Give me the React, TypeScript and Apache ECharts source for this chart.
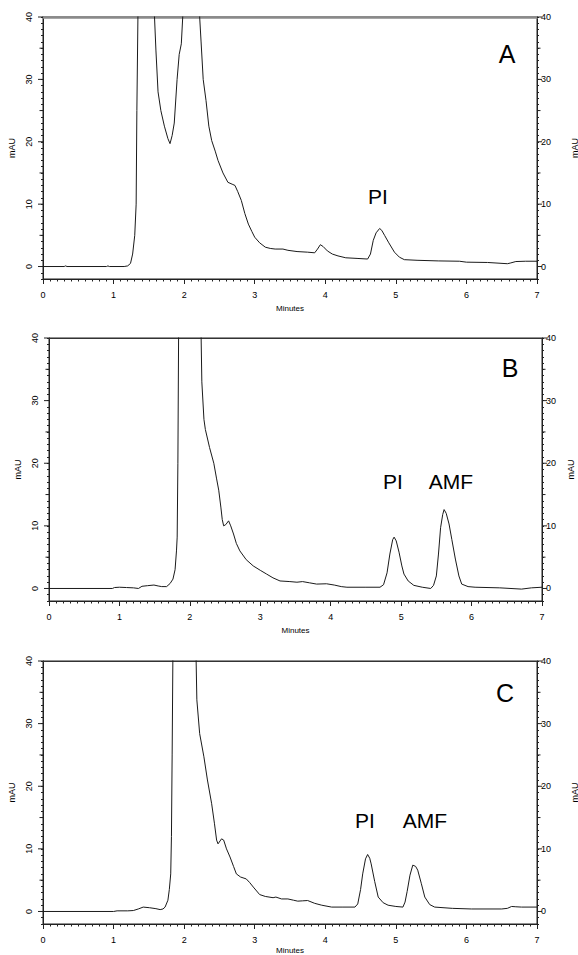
import React, { useEffect, useRef } from "react";
import * as echarts from "echarts";

const traceA: number[][] = [[0,0],[0.3,0],[0.32,0.1],[0.34,0],[0.9,0],[0.92,0.1],[0.94,0],[1.15,0],[1.2,0.1],[1.24,0.5],[1.27,2],[1.3,5],[1.32,10],[1.33,25],[1.35,45],[1.4,80],[1.5,80],[1.56,50],[1.58,40],[1.6,34.7],[1.63,28],[1.67,25],[1.72,22.5],[1.77,20.5],[1.8,19.7],[1.83,21],[1.86,23],[1.9,30],[1.93,34],[1.96,35.7],[1.98,40],[2.02,60],[2.1,70],[2.18,55],[2.22,40],[2.24,36],[2.27,30],[2.31,26.6],[2.35,22.5],[2.39,20.2],[2.44,18.5],[2.48,17],[2.55,15],[2.62,13.5],[2.68,13.2],[2.72,13],[2.76,12],[2.81,10.6],[2.86,8.5],[2.91,6.8],[2.96,5.6],[3.0,4.7],[3.07,3.8],[3.15,3.1],[3.22,2.9],[3.29,2.8],[3.4,2.8],[3.47,2.6],[3.6,2.4],[3.75,2.3],[3.85,2.2],[3.89,2.8],[3.93,3.5],[3.97,3.2],[4.03,2.5],[4.1,2.0],[4.18,1.7],[4.29,1.4],[4.45,1.3],[4.6,1.2],[4.64,2.0],[4.68,4.2],[4.72,5.4],[4.77,6.1],[4.8,5.8],[4.84,5.0],[4.9,3.8],[4.98,2.3],[5.05,1.5],[5.12,1.1],[5.3,1.0],[5.6,0.9],[5.9,0.85],[6.0,0.7],[6.3,0.65],[6.58,0.45],[6.62,0.55],[6.7,0.8],[6.84,0.85],[7,0.85]];

const traceB: number[][] = [[0,0],[0.9,0],[0.93,0.15],[1.0,0.2],[1.1,0.15],[1.2,0.1],[1.27,0],[1.32,0.35],[1.4,0.45],[1.49,0.55],[1.55,0.4],[1.6,0.3],[1.67,0.3],[1.72,0.8],[1.76,1.5],[1.79,3],[1.81,6],[1.82,8.2],[1.83,20],[1.84,40],[1.9,80],[2.0,120],[2.1,80],[2.15,45],[2.16,40],[2.17,33],[2.2,27],[2.22,25.4],[2.28,22.5],[2.34,20],[2.38,17.5],[2.41,15.7],[2.44,13],[2.46,11],[2.48,10],[2.51,10.2],[2.55,10.8],[2.58,10],[2.62,8.7],[2.66,7.2],[2.71,6],[2.8,4.6],[2.9,3.6],[3.0,2.9],[3.09,2.3],[3.18,1.7],[3.28,1.2],[3.42,1.1],[3.52,1.0],[3.6,1.1],[3.7,0.9],[3.8,0.7],[3.94,0.75],[4.05,0.55],[4.15,0.3],[4.23,0.2],[4.5,0.2],[4.7,0.2],[4.75,0.6],[4.8,2.5],[4.84,5.5],[4.88,7.8],[4.9,8.2],[4.93,7.6],[4.97,5.8],[5.01,3.6],[5.04,2.3],[5.1,1.2],[5.18,0.5],[5.3,0.2],[5.42,0],[5.46,0.5],[5.5,2],[5.53,5.5],[5.56,9.7],[5.59,11.8],[5.61,12.6],[5.64,12],[5.68,10.3],[5.72,7.8],[5.77,4.7],[5.82,2],[5.86,0.7],[5.95,0.3],[6.05,0.2],[6.4,0.1],[6.71,-0.1],[6.85,0.1],[7,0.2]];

const traceC: number[][] = [[0,0],[1.0,0],[1.05,0.1],[1.2,0.1],[1.28,0.15],[1.35,0.4],[1.42,0.7],[1.51,0.6],[1.6,0.45],[1.66,0.3],[1.7,0.4],[1.73,0.7],[1.77,1.8],[1.79,3.5],[1.81,6],[1.82,12],[1.83,25],[1.84,40],[1.9,90],[2.0,120],[2.1,80],[2.16,45],[2.17,40],[2.18,33.8],[2.22,28.4],[2.28,24.7],[2.33,21],[2.39,17.2],[2.43,14],[2.46,11.4],[2.48,10.8],[2.53,11.6],[2.56,11.4],[2.6,10],[2.65,8.7],[2.7,7.2],[2.74,6],[2.8,5.5],[2.88,5.2],[2.93,4.6],[2.98,3.9],[3.07,2.7],[3.15,2.4],[3.26,2.2],[3.3,2.3],[3.38,2.0],[3.47,2.0],[3.55,1.8],[3.61,1.65],[3.68,1.7],[3.75,1.75],[3.85,1.3],[3.95,1.0],[4.09,0.7],[4.25,0.7],[4.42,0.7],[4.46,1.2],[4.5,3.5],[4.53,6],[4.57,8.4],[4.6,9.1],[4.63,8.5],[4.65,7.6],[4.7,4.8],[4.75,2.3],[4.82,1.4],[4.89,1.0],[5.0,0.8],[5.1,0.7],[5.13,1.5],[5.16,3.2],[5.2,5.8],[5.24,7.4],[5.28,7.2],[5.31,6.6],[5.36,4.5],[5.41,2.3],[5.48,1.1],[5.55,0.7],[5.8,0.5],[6.07,0.4],[6.5,0.4],[6.58,0.5],[6.64,0.8],[6.7,0.75],[6.78,0.7],[7,0.7]];

const yMajorTicks = [0, 10, 20, 30, 40];
const yMidTicks = [5, 15, 25, 35];
const panelLetters = ["A", "B", "C"];
const peakLabelsA = ["PI"];
const peakLabelsB = ["PI", "AMF"];
const peakLabelsC = ["PI", "AMF"];

const FONT = "'Liberation Sans', Arial, sans-serif";
const INK = "#222";

const grids = [
  { left: 43, right: 41, top: 17, height: 262 },
  { left: 49, right: 36, top: 338, height: 263 },
  { left: 43, right: 41, top: 661, height: 263 },
];
const topLine = [
  { color: "#8a8a8a", width: 2.5 },
  { color: "#333", width: 1 },
  { color: "#333", width: 1 },
];
const rightNameGap = [33, 24, 33];
const minutesGap = [25, 25, 22];

const yLabel = (v: number) => (v >= 0 && v % 10 === 0 ? String(v) : "");

export default function App() {
  const ref = useRef<HTMLDivElement>(null);
  useEffect(() => {
    if (!ref.current) return;
    const chart = echarts.init(ref.current, null, { renderer: "svg" });
    const xAxes: any[] = [];
    const yAxes: any[] = [];
    const series: any[] = [];
    const traces = [traceA, traceB, traceC];
    const tickStyle = { color: INK, width: 1 };
    const tickData: number[][] = [];
    yMajorTicks.forEach((v) => { tickData.push([0, v, 5]); tickData.push([1, v, 5]); });
    yMidTicks.forEach((v) => { tickData.push([0, v, 3.5]); tickData.push([1, v, 3.5]); });

    grids.forEach((_, i) => {
      xAxes.push({
        gridIndex: i, type: "value", min: 0, max: 7, interval: 1, position: "bottom",
        axisLine: { show: true, onZero: false, lineStyle: { color: INK, width: 1 } },
        splitLine: { show: false },
        axisTick: { show: true, inside: false, length: 5, lineStyle: tickStyle },
        minorTick: { show: true, splitNumber: 10, length: 2.5, lineStyle: tickStyle },
        axisLabel: { fontSize: 9, color: "#000", margin: 11, fontFamily: FONT },
        name: "Minutes", nameLocation: "middle", nameGap: minutesGap[i],
        nameTextStyle: { fontSize: 8, color: "#000", fontFamily: FONT },
      });
      xAxes.push({
        gridIndex: i, type: "value", min: 0, max: 7, position: "top",
        axisLine: { show: true, onZero: false, lineStyle: topLine[i] },
        axisTick: { show: false }, axisLabel: { show: false }, splitLine: { show: false },
      });
      yAxes.push({
        gridIndex: i, type: "value", min: -2, max: 40, interval: 1, position: "left",
        splitLine: { show: false },
        axisLine: { show: true, onZero: false, lineStyle: { color: INK, width: 1 } },
        axisTick: { show: true, length: 2, lineStyle: tickStyle },
        axisLabel: { formatter: yLabel, rotate: 90, fontSize: 9, color: "#000", margin: 10, fontFamily: FONT, showMinLabel: true, showMaxLabel: true },
        name: "mAU", nameLocation: "middle", nameGap: 26, nameRotate: 90,
        nameTextStyle: { fontSize: 9, color: "#000", fontFamily: FONT },
      });
      yAxes.push({
        gridIndex: i, type: "value", min: -2, max: 40, interval: 1, position: "right",
        splitLine: { show: false },
        axisLine: { show: true, onZero: false, lineStyle: { color: INK, width: 1 } },
        axisTick: { show: true, length: 2, lineStyle: tickStyle },
        axisLabel: { formatter: yLabel, fontSize: 9, color: "#000", margin: 4, fontFamily: FONT, showMinLabel: true, showMaxLabel: true },
        name: "mAU", nameLocation: "middle", nameGap: rightNameGap[i], nameRotate: 90,
        nameTextStyle: { fontSize: 9, color: "#000", fontFamily: FONT },
      });
      series.push({
        type: "line", xAxisIndex: i * 2, yAxisIndex: i * 2, data: traces[i],
        showSymbol: false, symbol: "none", clip: true,
        lineStyle: { color: "#1a1a1a", width: 1 },
      });
      series.push({
        type: "custom", xAxisIndex: i * 2, yAxisIndex: i * 2, data: tickData,
        clip: false, silent: true,
        encode: { x: 0, y: 1 },
        renderItem: (_p: any, api: any) => {
          const side = api.value(0);
          const v = api.value(1);
          const len = api.value(2);
          const p = api.coord([side === 0 ? 0 : 7, v]);
          const dx = side === 0 ? -len : len;
          return {
            type: "line",
            shape: { x1: p[0], y1: p[1], x2: p[0] + dx, y2: p[1] },
            style: { stroke: INK, lineWidth: 1 },
          };
        },
      });
    });

    const txt = (t: string, x: number, y: number, size: number) => ({
      type: "text", x, y,
      style: { text: t, fontSize: size, fontFamily: FONT, fill: "#000", align: "center", verticalAlign: "middle" },
    });
    const graphic = [
      txt(panelLetters[0], 507, 54, 25),
      txt(peakLabelsA[0], 378, 196, 21),
      txt(panelLetters[1], 510, 368, 25),
      txt(peakLabelsB[0], 393, 481, 21),
      txt(peakLabelsB[1], 451, 481, 21),
      txt(panelLetters[2], 505, 693, 25),
      txt(peakLabelsC[0], 365, 820, 21),
      txt(peakLabelsC[1], 425, 820, 21),
    ];

    chart.setOption({
      animation: false,
      backgroundColor: "#fff",
      grid: grids.map((g) => ({ ...g, containLabel: false, outerBoundsMode: "none", show: true, borderColor: INK, borderWidth: 1, backgroundColor: "transparent" })),
      xAxis: xAxes,
      yAxis: yAxes,
      series,
      graphic,
    });
    return () => chart.dispose();
  }, []);
  return (
    <div
      ref={ref}
      style={{ position: "fixed", left: 0, top: 0, width: 578, height: 955, background: "#fff" }}
    />
  );
}
